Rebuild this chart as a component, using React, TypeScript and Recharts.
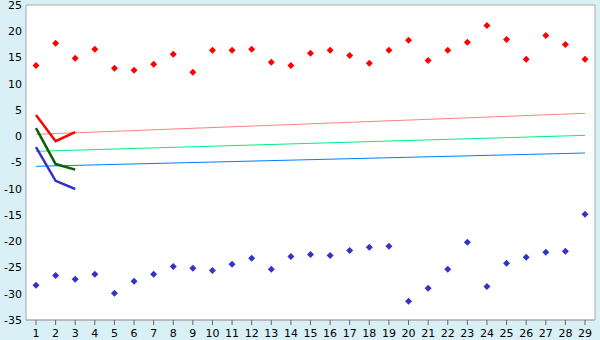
import React from "react";
import { ComposedChart, Line, XAxis, YAxis, CartesianGrid } from "recharts";

const categories = [1, 2, 3, 4, 5, 6, 7, 8, 9, 10, 11, 12, 13, 14, 15, 16, 17, 18, 19, 20, 21, 22, 23, 24, 25, 26, 27, 28, 29];

const redMarks = [13.5, 17.7, 14.85, 16.55, 12.95, 12.55, 13.7, 15.6, 12.2, 16.4, 16.4, 16.55, 14.1, 13.5, 15.8, 16.4, 15.4, 13.9, 16.4, 18.3, 14.45, 16.4, 17.9, 21.1, 18.45, 14.65, 19.2, 17.5, 14.65];
const blueMarks = [-28.4, -26.5, -27.25, -26.3, -29.9, -27.6, -26.3, -24.8, -25.15, -25.55, -24.4, -23.25, -25.35, -22.9, -22.5, -22.7, -21.75, -21.15, -20.95, -31.45, -28.95, -25.35, -20.2, -28.6, -24.2, -23.05, -22.1, -21.9, -14.85];

// first three categories only
const redLine = [4.05, -0.95, 0.8];
const greenLine = [1.55, -5.3, -6.35];
const blueLine = [-2.05, -8.5, -10.05];

// trend lines: value at first and last category
const redTrend = [0.37, 4.37];
const greenTrend = [-2.87, 0.17];
const blueTrend = [-5.73, -3.19];

const yTicks = [-35, -30, -25, -20, -15, -10, -5, 0, 5, 10, 15, 20, 25];

const last = categories.length - 1;
const data = categories.map((c, i) => ({
  x: c,
  red: redMarks[i],
  blue: blueMarks[i],
  redLine: i < redLine.length ? redLine[i] : null,
  greenLine: i < greenLine.length ? greenLine[i] : null,
  blueLine: i < blueLine.length ? blueLine[i] : null,
  redTrend: i === 0 ? redTrend[0] : i === last ? redTrend[1] : null,
  greenTrend: i === 0 ? greenTrend[0] : i === last ? greenTrend[1] : null,
  blueTrend: i === 0 ? blueTrend[0] : i === last ? blueTrend[1] : null,
}));

const diamond = (color: string) => (props: any) => {
  const { cx, cy, index } = props;
  if (cx == null || cy == null || props.value == null) return <g key={index} />;
  const r = 3.5;
  return (
    <path
      key={index}
      d={`M${cx},${cy - r}L${cx + r},${cy}L${cx},${cy + r}L${cx - r},${cy}Z`}
      fill={color}
    />
  );
};

const font = { fontFamily: "DejaVu Sans", fontSize: 11, fill: "#000" };

export default function App() {
  return (
    <div style={{ position: "fixed", left: 0, top: 0, width: 600, height: 340, background: "#d9f0f7" }}>
      <ComposedChart width={600} height={340} data={data} margin={{ top: 5, right: 0, bottom: 0, left: 0 }}>
        <CartesianGrid vertical={false} stroke="#aaaaaa" fill="#ffffff" strokeWidth={1} />
        <XAxis
          dataKey="x"
          height={20}
          padding={{ left: 10, right: 10 }}
          axisLine={{ stroke: "#aaaaaa" }}
          tickLine={{ stroke: "#666666" }}
          tickSize={5}
          tickMargin={4}
          tick={font}
          interval={0}
        />
        <YAxis
          yAxisId="l"
          width={26}
          domain={[-35, 25]}
          ticks={yTicks}
          axisLine={{ stroke: "#aaaaaa" }}
          tickLine={false}
          tickSize={2}
          tickMargin={2}
          tick={font}
          interval={0}
        />
        <YAxis
          yAxisId="r"
          orientation="right"
          width={5}
          domain={[-35, 25]}
          axisLine={{ stroke: "#aaaaaa" }}
          tick={false}
          tickLine={false}
        />
        <Line yAxisId="l" dataKey="redTrend" stroke="#ff8080" strokeWidth={1} dot={false} connectNulls isAnimationActive={false} />
        <Line yAxisId="l" dataKey="greenTrend" stroke="#00ee80" strokeWidth={1} dot={false} connectNulls isAnimationActive={false} />
        <Line yAxisId="l" dataKey="blueTrend" stroke="#0080ff" strokeWidth={1} dot={false} connectNulls isAnimationActive={false} />
        <Line yAxisId="l" dataKey="redLine" stroke="#ff0000" strokeWidth={2.5} dot={false} isAnimationActive={false} />
        <Line yAxisId="l" dataKey="greenLine" stroke="#006600" strokeWidth={2.5} dot={false} isAnimationActive={false} />
        <Line yAxisId="l" dataKey="blueLine" stroke="#3333cc" strokeWidth={2.5} dot={false} isAnimationActive={false} />
        <Line yAxisId="l" dataKey="red" stroke="none" dot={diamond("#ff0000")} activeDot={false} isAnimationActive={false} />
        <Line yAxisId="l" dataKey="blue" stroke="none" dot={diamond("#3333cc")} activeDot={false} isAnimationActive={false} />
      </ComposedChart>
    </div>
  );
}
